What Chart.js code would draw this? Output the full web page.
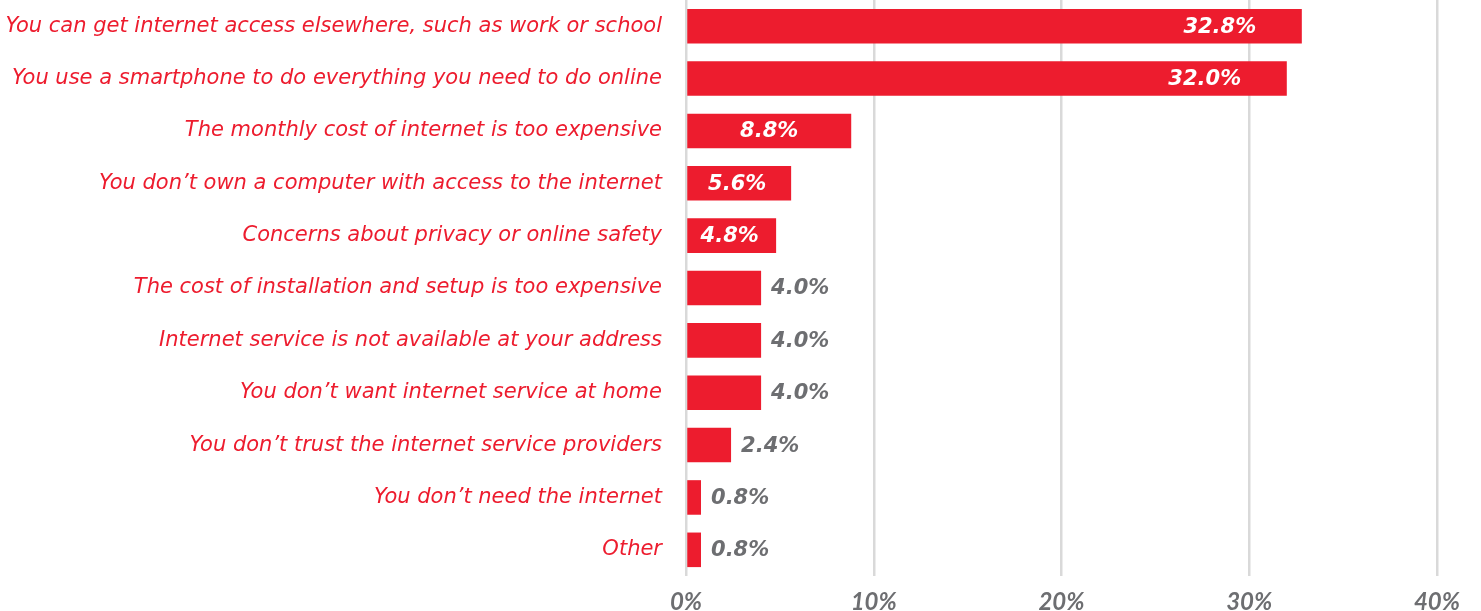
<!DOCTYPE html>
<html>
<head>
<meta charset="utf-8">
<script src="https://cdn.jsdelivr.net/npm/chart.js@4.4.1/dist/chart.umd.min.js"></script>
<style>
  html, body { margin: 0; padding: 0; background: #ffffff; }
  #wrap { width: 1481px; height: 611px; position: relative; }
</style>
</head>
<body>
<div id="wrap"><canvas id="chart"></canvas></div>
<script>
  // Reasons for not having home internet (share of respondents, %)
  const categories = [
    'You can get internet access elsewhere, such as work or school',
    'You use a smartphone to do everything you need to do online',
    'The monthly cost of internet is too expensive',
    'You don\u2019t own a computer with access to the internet',
    'Concerns about privacy or online safety',
    'The cost of installation and setup is too expensive',
    'Internet service is not available at your address',
    'You don\u2019t want internet service at home',
    'You don\u2019t trust the internet service providers',
    'You don\u2019t need the internet',
    'Other'
  ];
  const values = [32.8, 32.0, 8.8, 5.6, 4.8, 4.0, 4.0, 4.0, 2.4, 0.8, 0.8];
  const xTicks = [0, 10, 20, 30, 40];

  const RED = '#ed1c2e';
  const GREY = '#6d6e71';

  // Value labels: white inside the longer bars, grey just past the short ones
  const valueLabels = {
    id: 'valueLabels',
    afterDatasetsDraw(chart) {
      const ctx = chart.ctx;
      const meta = chart.getDatasetMeta(0);
      ctx.save();
      ctx.textBaseline = 'middle';
      ctx.font = 'italic bold 21px "DejaVu Sans"';
      meta.data.forEach(function(bar, i) {
        const text = values[i].toFixed(1) + '%';
        if (values[i] > 4.5) {
          // centred on short bars, pulled towards the end on long ones
          const mid = (bar.x + bar.base) / 2 - 2;
          ctx.fillStyle = '#ffffff';
          ctx.textAlign = 'center';
          ctx.fillText(text, Math.max(mid, bar.x - 82), bar.y + 1);
        } else {
          ctx.fillStyle = GREY;
          ctx.textAlign = 'left';
          ctx.fillText(text, bar.x + 10, bar.y + 1);
        }
      });
      ctx.restore();
    }
  };

  new Chart(document.getElementById('chart'), {
    type: 'bar',
    data: {
      labels: categories,
      datasets: [{
        data: values,
        backgroundColor: RED,
        borderWidth: 0,
        barPercentage: 0.66,
        categoryPercentage: 1.0
      }]
    },
    options: {
      indexAxis: 'y',
      responsive: true,
      maintainAspectRatio: false,
      animation: false,
      layout: { padding: { top: 0, right: 44, bottom: 0, left: 0 } },
      plugins: {
        legend: { display: false },
        tooltip: { enabled: false }
      },
      scales: {
        x: {
          min: 0,
          max: 40,
          afterBuildTicks: function(scale) {
            scale.ticks = xTicks.map(function(v) { return { value: v }; });
          },
          afterFit: function(scale) { scale.height = 35; },
          grid: {
            color: '#d9d9d9',
            lineWidth: 2.5,
            drawTicks: false
          },
          border: { display: false },
          ticks: {
            color: GREY,
            padding: 12,
            maxRotation: 0,
            font: { family: 'Lato', size: 24, style: 'italic', weight: 'bold' },
            callback: function(value) { return value + '%'; }
          }
        },
        y: {
          grid: { display: false, drawTicks: false },
          border: { display: false },
          afterFit: function(scale) {
            scale.width = 686;
            // tick padding would otherwise be reserved above and below the bars
            scale.paddingTop = 0;
            scale.paddingBottom = 0;
          },
          ticks: {
            color: RED,
            padding: 24,
            autoSkip: false,
            font: { family: 'DejaVu Sans', size: 21, style: 'italic' }
          }
        }
      }
    },
    plugins: [valueLabels]
  });
</script>
</body>
</html>
